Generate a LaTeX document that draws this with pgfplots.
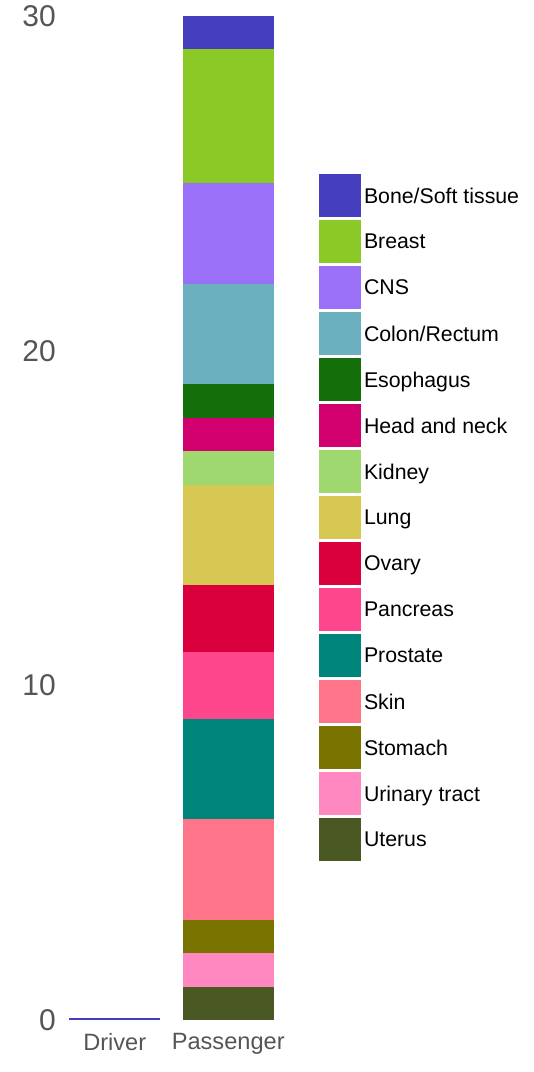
\documentclass[border=0pt]{standalone}
\usepackage{fontspec}
\setmainfont{Liberation Sans}
\usepackage{pgfplots}
\pgfplotsset{compat=1.18}
\definecolor{cBone}{HTML}{453FBF}
\definecolor{cBreast}{HTML}{8BC926}
\definecolor{cCNS}{HTML}{9B70F9}
\definecolor{cColon}{HTML}{6AB0BF}
\definecolor{cEso}{HTML}{146E09}
\definecolor{cHead}{HTML}{D2006E}
\definecolor{cKidney}{HTML}{9ED86E}
\definecolor{cLung}{HTML}{D6C853}
\definecolor{cOvary}{HTML}{D9003D}
\definecolor{cPancreas}{HTML}{FD468C}
\definecolor{cProstate}{HTML}{00857A}
\definecolor{cSkin}{HTML}{FE7488}
\definecolor{cStomach}{HTML}{797300}
\definecolor{cUrinary}{HTML}{FF88C0}
\definecolor{cUterus}{HTML}{4A5924}
\definecolor{tickgray}{HTML}{555555}
\pgfplotsset{
  mybar/.style={fill=#1, draw=none,
    legend image code/.code={\fill[fill=#1] (0pt,-21pt) rectangle (42pt,22pt);}},
}
\begin{document}
\begin{tikzpicture}
\useasboundingbox (-58pt,-52pt) rectangle (476pt,1020pt);
\begin{axis}[
  scale only axis, width=227pt, height=1004pt,
  xmin=-0.5, xmax=1.5, ymin=0, ymax=30,
  clip=false,
  ybar stacked, bar width=0.8,
  axis line style={draw=none}, tick style={draw=none},
  major tick length=0pt,
  xtick={0,1}, xticklabels={Driver,Passenger},
  ytick={0,10,20,30},
  /pgf/number format/assume math mode=true,
  yticklabel style={font=\fontsize{30}{30}\selectfont, text=tickgray, inner sep=0pt, xshift=-2pt},
  xticklabel style={font=\fontsize{23.6}{24}\selectfont, text=tickgray, inner sep=0pt, yshift=-13pt},
  legend style={at={(1.1498,0.8426)}, anchor=north west, draw=none, fill=none,
    inner sep=0pt, outer sep=0pt, row sep=3pt, column sep=3pt,
    font=\fontsize{21.3}{22}\selectfont, nodes={inner sep=0pt, outer sep=0pt, anchor=west}},
  legend cell align=left,
  reverse legend,
]
\addplot[mybar=cUterus] coordinates {(0,0) (1,1)};
\addplot[mybar=cUrinary] coordinates {(0,0) (1,1)};
\addplot[mybar=cStomach] coordinates {(0,0) (1,1)};
\addplot[mybar=cSkin] coordinates {(0,0) (1,3)};
\addplot[mybar=cProstate] coordinates {(0,0) (1,3)};
\addplot[mybar=cPancreas] coordinates {(0,0) (1,2)};
\addplot[mybar=cOvary] coordinates {(0,0) (1,2)};
\addplot[mybar=cLung] coordinates {(0,0) (1,3)};
\addplot[mybar=cKidney] coordinates {(0,0) (1,1)};
\addplot[mybar=cHead] coordinates {(0,0) (1,1)};
\addplot[mybar=cEso] coordinates {(0,0) (1,1)};
\addplot[mybar=cColon] coordinates {(0,0) (1,3)};
\addplot[mybar=cCNS] coordinates {(0,0) (1,3)};
\addplot[mybar=cBreast] coordinates {(0,0) (1,4)};
\addplot[mybar=cBone] coordinates {(0,0) (1,1)};
\legend{Uterus,Urinary tract,Stomach,Skin,Prostate,Pancreas,Ovary,Lung,Kidney,Head and neck,Esophagus,Colon/Rectum,CNS,Breast,Bone/Soft tissue}
\addplot[forget plot, stack plots=false, sharp plot, draw=cBone, fill=none, line width=1.2pt, no markers] coordinates {(-0.4,0.03) (0.4,0.03)};
\end{axis}
\end{tikzpicture}
\end{document}
